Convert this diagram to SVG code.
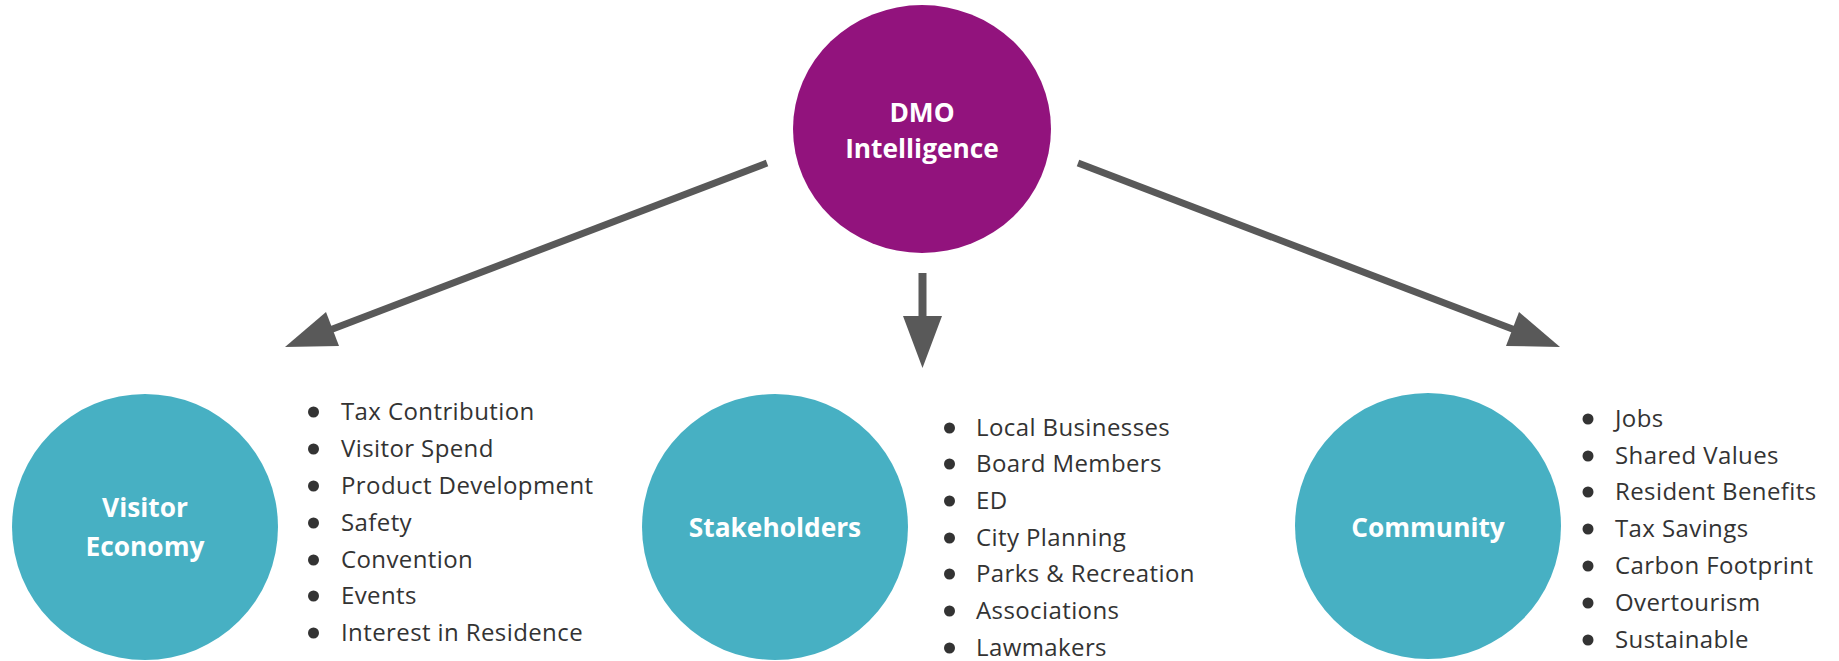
<svg xmlns="http://www.w3.org/2000/svg" width="1839" height="661" viewBox="0 0 1839 661">
<style>
.title{font-family:"Open Sans","Liberation Sans",sans-serif;font-weight:700;font-size:26.3px;fill:#ffffff;text-anchor:middle}
.item{font-family:"Open Sans","Liberation Sans",sans-serif;font-size:24px;letter-spacing:0.4px;fill:#333333}
.dot{fill:#333333}
.conn{stroke:#595959;stroke-width:7;fill:none}
.head{fill:#595959}
.teal{fill:#47B0C3}
</style>
<rect width="1839" height="661" fill="#ffffff"/>
<g id="connectors">
<line class="conn" x1="767" y1="163" x2="330" y2="330"/>
<polygon class="head" points="285,347 326,312 339,346"/>
<line class="conn" x1="1078" y1="163" x2="1515" y2="330"/>
<polygon class="head" points="1560,347 1519,312 1506,346"/>
<line class="conn" style="stroke-width:8" x1="922.5" y1="273" x2="922.5" y2="320"/>
<polygon class="head" points="903,316 942,316 922.5,368"/>
</g>
<g id="dmo">
<ellipse cx="922" cy="129" rx="129" ry="124" fill="#92137D"/>
<text class="title" x="922" y="122">DMO</text>
<text class="title" x="922" y="158">Intelligence</text>
</g>
<g id="visitor-economy">
<circle class="teal" cx="145" cy="527" r="133"/>
<text class="title" x="145" y="517">Visitor</text>
<text class="title" x="145" y="556">Economy</text>
</g>
<g id="visitor-economy-list">
<circle class="dot" cx="313.5" cy="412" r="5.5"/><text class="item" x="341" y="420">Tax Contribution</text>
<circle class="dot" cx="313.5" cy="449" r="5.5"/><text class="item" x="341" y="457">Visitor Spend</text>
<circle class="dot" cx="313.5" cy="486" r="5.5"/><text class="item" x="341" y="494">Product Development</text>
<circle class="dot" cx="313.5" cy="523" r="5.5"/><text class="item" x="341" y="531">Safety</text>
<circle class="dot" cx="313.5" cy="560" r="5.5"/><text class="item" x="341" y="568">Convention</text>
<circle class="dot" cx="313.5" cy="596" r="5.5"/><text class="item" x="341" y="604">Events</text>
<circle class="dot" cx="313.5" cy="633" r="5.5"/><text class="item" x="341" y="641">Interest in Residence</text>
</g>
<g id="stakeholders">
<circle class="teal" cx="775" cy="527" r="133"/>
<text class="title" x="775" y="537">Stakeholders</text>
</g>
<g id="stakeholders-list">
<circle class="dot" cx="949.5" cy="428" r="5.5"/><text class="item" x="976" y="436">Local Businesses</text>
<circle class="dot" cx="949.5" cy="464" r="5.5"/><text class="item" x="976" y="472">Board Members</text>
<circle class="dot" cx="949.5" cy="501" r="5.5"/><text class="item" x="976" y="509">ED</text>
<circle class="dot" cx="949.5" cy="538" r="5.5"/><text class="item" x="976" y="546">City Planning</text>
<circle class="dot" cx="949.5" cy="574" r="5.5"/><text class="item" x="976" y="582">Parks &amp; Recreation</text>
<circle class="dot" cx="949.5" cy="611" r="5.5"/><text class="item" x="976" y="619">Associations</text>
<circle class="dot" cx="949.5" cy="648" r="5.5"/><text class="item" x="976" y="656">Lawmakers</text>
</g>
<g id="community">
<circle class="teal" cx="1428" cy="526" r="133"/>
<text class="title" x="1428" y="537">Community</text>
</g>
<g id="community-list">
<circle class="dot" cx="1588" cy="419" r="5.5"/><text class="item" x="1615" y="427">Jobs</text>
<circle class="dot" cx="1588" cy="456" r="5.5"/><text class="item" x="1615" y="464">Shared Values</text>
<circle class="dot" cx="1588" cy="492" r="5.5"/><text class="item" x="1615" y="500">Resident Benefits</text>
<circle class="dot" cx="1588" cy="529" r="5.5"/><text class="item" x="1615" y="537">Tax Savings</text>
<circle class="dot" cx="1588" cy="566" r="5.5"/><text class="item" x="1615" y="574">Carbon Footprint</text>
<circle class="dot" cx="1588" cy="603" r="5.5"/><text class="item" x="1615" y="611">Overtourism</text>
<circle class="dot" cx="1588" cy="640" r="5.5"/><text class="item" x="1615" y="648">Sustainable</text>
</g>
</svg>
